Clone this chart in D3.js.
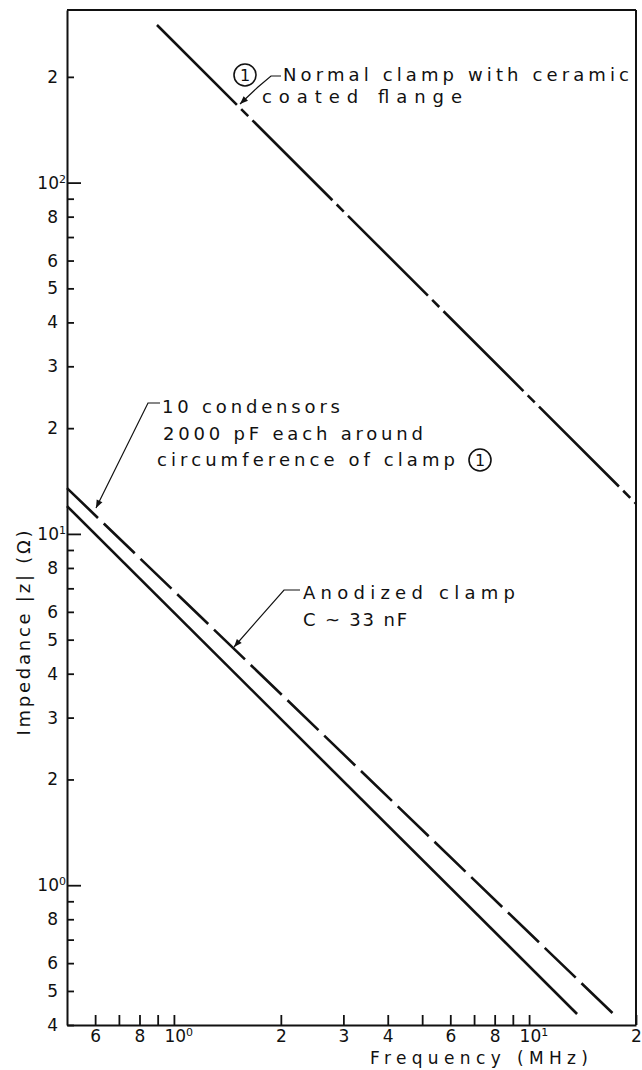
<!DOCTYPE html>
<html><head><meta charset="utf-8">
<script src="https://cdn.jsdelivr.net/npm/d3@7"></script>
<style>body{margin:0;background:#fff}svg{display:block}</style>
</head><body><svg id="c" width="642" height="1070"></svg>
<script>
// ---- data ----
const freqNormal = [0.896, 20];        // MHz
const zNormal    = [281, 12.2];        // ohm
const freqCond   = [0.5, 17.7];
const zCond      = [13.5, 0.42];
const freqAnod   = [0.5, 13.65];
const zAnod      = [12.0, 0.43];

const xTickValues = [0.6,0.7,0.8,0.9,1,2,3,4,5,6,7,8,9,10,20];
const xTickLabels = ["6","","8","","10^0","2","3","4","","6","","8","","10^1","2"];
const yTickValues = [0.4,0.5,0.6,0.7,0.8,0.9,1,2,3,4,5,6,7,8,9,10,20,30,40,50,60,70,80,90,100,200];
const yTickLabels = ["4","5","6","","8","","10^0","2","3","4","5","6","","8","","10^1","2","3","4","5","6","","8","","10^2","2"];
const yDecades = [1,10,100];

const xTitle = "Frequency (MHz)";
const yTitle = "Impedance |z| (Ω)";

// ---- layout ----
const svg = d3.select("#c");
const L = 67, R = 636, T = 10, B = 1025;
const x = d3.scaleLog().domain([0.5, 20]).range([L, R]);
const y = d3.scaleLog().domain([0.4, 310]).range([B, T]);
const ink = "#111";
const font = "'DejaVu Sans', sans-serif";

const defs = svg.append("defs");
defs.append("marker").attr("id","arr").attr("viewBox","0 0 10 10")
  .attr("refX",10).attr("refY",5).attr("markerWidth",11).attr("markerHeight",8)
  .attr("markerUnits","userSpaceOnUse").attr("orient","auto")
  .append("path").attr("d","M0,1 L10,5 L0,9 Z").attr("fill",ink);

// frame top & right
svg.append("line").attr("x1",L).attr("x2",R).attr("y1",T).attr("y2",T).attr("stroke",ink).attr("stroke-width",2);
svg.append("line").attr("x1",R).attr("x2",R).attr("y1",T).attr("y2",B).attr("stroke",ink).attr("stroke-width",2);

function supLabels(sel){
  sel.each(function(){
    const t = d3.select(this); const s = t.text();
    if (s.includes("^")) {
      const [b,e] = s.split("^");
      t.text(null);
      t.append("tspan").text(b);
      t.append("tspan").attr("font-size","11px").attr("dy","-0.55em").text(e);
    }
  });
}

// y axis
const yMap = new Map(yTickValues.map((v,i)=>[v,yTickLabels[i]]));
const gy = svg.append("g").attr("transform",`translate(${L},0)`)
  .call(d3.axisLeft(y).tickValues(yTickValues).tickFormat(d=>yMap.get(d)).tickSize(-7).tickSizeOuter(0).tickPadding(9));
gy.select(".domain").attr("stroke",ink).attr("stroke-width",2);
gy.selectAll(".tick line").attr("stroke",ink).attr("stroke-width",1.8)
  .attr("x2", d=> yDecades.includes(d) ? 14 : 7);
gy.selectAll(".tick text").attr("font-family",font).attr("font-size","17px").attr("fill",ink)
  .attr("x", d=> yDecades.includes(d) ? -1 : -9).call(supLabels);

// x axis
const xMap = new Map(xTickValues.map((v,i)=>[v,xTickLabels[i]]));
const gx = svg.append("g").attr("transform",`translate(0,${B})`)
  .call(d3.axisBottom(x).tickValues(xTickValues).tickFormat(d=>xMap.get(d)).tickSize(-10).tickSizeOuter(0).tickPadding(5));
gx.select(".domain").attr("stroke",ink).attr("stroke-width",2);
gx.selectAll(".tick line").attr("stroke",ink).attr("stroke-width",1.8);
gx.selectAll(".tick text").attr("font-family",font).attr("font-size","17px").attr("fill",ink)
  .each(function(d){ if (xMap.get(d).includes("^")) d3.select(this).attr("text-anchor","start").attr("x",-10); })
  .call(supLabels);

// titles
svg.append("text").attr("x",370).attr("y",1064).attr("font-family",font).attr("font-size","17px")
  .attr("textLength",218).attr("lengthAdjust","spacing").attr("fill",ink).text(xTitle);
svg.append("text").attr("transform","translate(30,633) rotate(-90)").attr("text-anchor","middle")
  .attr("font-family",font).attr("font-size","18px").attr("textLength",205).attr("lengthAdjust","spacing")
  .attr("fill",ink).text(yTitle);

// curves
const line = d3.line().x(d=>x(d[0])).y(d=>y(d[1]));
svg.append("path").datum(d3.zip(freqNormal,zNormal)).attr("d",line)
  .attr("fill","none").attr("stroke",ink).attr("stroke-width",2.6).attr("stroke-dasharray","113,6,10,6");
svg.append("path").datum(d3.zip(freqCond,zCond)).attr("d",line)
  .attr("fill","none").attr("stroke",ink).attr("stroke-width",2.6).attr("stroke-dasharray","43,8");
svg.append("path").datum(d3.zip(freqAnod,zAnod)).attr("d",line)
  .attr("fill","none").attr("stroke",ink).attr("stroke-width",2.6);

// annotations
function txt(xp, yp, s, len){
  svg.append("text").attr("x",xp).attr("y",yp).attr("font-family",font).attr("font-size","18px")
    .attr("fill",ink).attr("textLength",len).attr("lengthAdjust","spacing").text(s);
}
function circ1(cx, cy){
  svg.append("circle").attr("cx",cx).attr("cy",cy).attr("r",11).attr("fill","none").attr("stroke",ink).attr("stroke-width",1.6);
  svg.append("text").attr("x",cx).attr("y",cy+6).attr("text-anchor","middle").attr("font-family",font)
    .attr("font-size","16px").attr("fill",ink).text("1");
}
const leader = (d)=> svg.append("path").attr("d",d).attr("fill","none").attr("stroke",ink)
  .attr("stroke-width",1.2).attr("marker-end","url(#arr)");

// 1: normal clamp
circ1(245, 75);
txt(283, 81, "Normal clamp with ceramic", 346);
txt(262, 103, "coated flange", 200);
leader("M281,76 L271,76 L258,87 L240,104");

// 2: condensors
txt(162, 413, "10 condensors", 178);
txt(163, 440, "2000 pF each around", 260);
txt(157, 466, "circumference of clamp", 298);
circ1(480, 460);
leader("M160,403 L148,403 L96,508");

// 3: anodized
txt(303, 599, "Anodized clamp", 212);
txt(303, 626, "C ~ 33 nF", 104);
leader("M300,590 L284,590 L234,647");
</script></body></html>
